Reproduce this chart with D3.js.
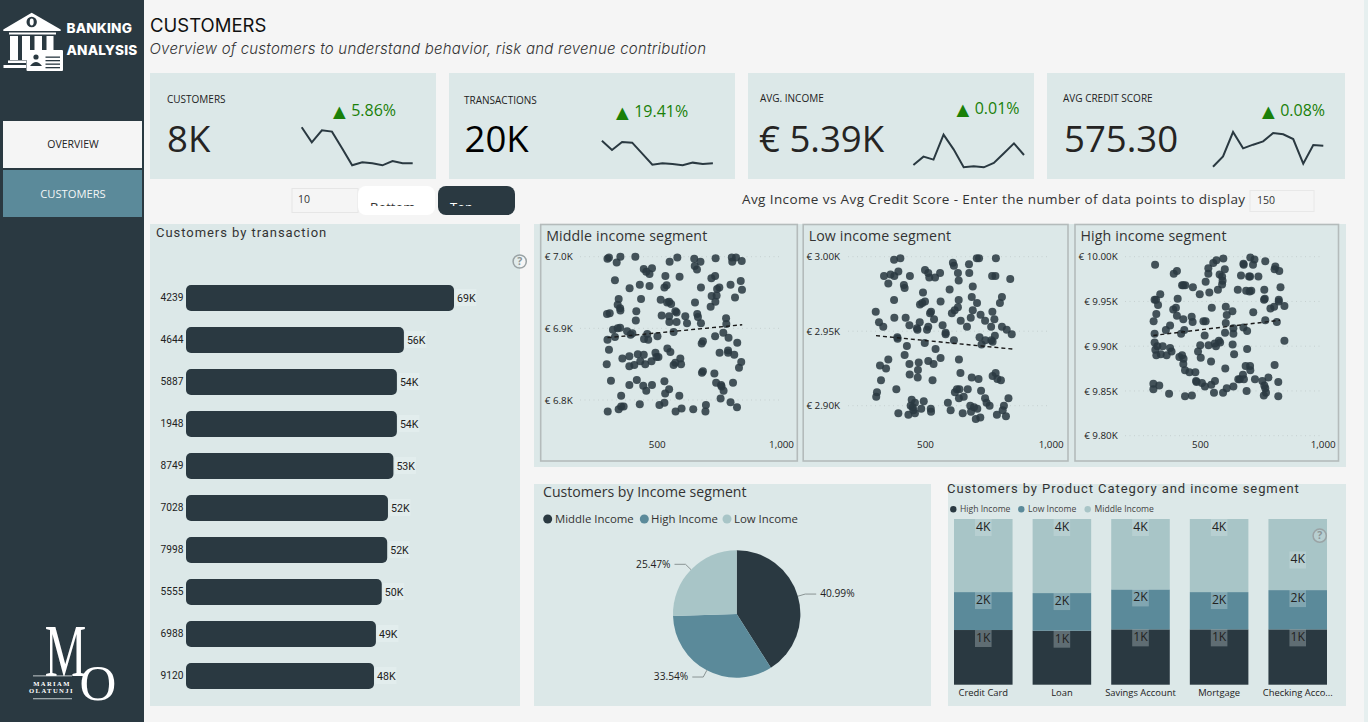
<!DOCTYPE html>
<html>
<head>
<meta charset="utf-8">
<title>Banking Analysis - Customers</title>
<script src="https://cdn.jsdelivr.net/npm/d3@7/dist/d3.min.js"></script>
<style>
  html, body { margin: 0; padding: 0; background: #f5f5f5; overflow: hidden; }
  svg { display: block; }
  text { font-family: "Open Sans", sans-serif; }
</style>
</head>
<body>
<svg id="dash" width="1368" height="722"></svg>
<script>
// ---- Data ----
const months = ["Jan","Feb","Mar","Apr","May","Jun","Jul","Aug","Sep","Oct","Nov","Dec"];
const sparkCustomers = [970,745,925,905,655,400,445,430,400,465,430,430];
const sparkTransactions = [2480,1920,2400,2360,1700,1040,1120,1080,1000,1160,1080,1120];
const sparkIncome = [5307,5332,5323,5398,5354,5300,5303,5300,5313,5342,5372,5337];
const sparkCredit = [560,567.75,586,573.75,576.5,579,585.25,584.25,580.75,562.25,576.25,575.75];

const customerIds = ["4239","4644","5887","1948","8749","7028","7998","5555","6988","9120"];
const customerTransactions = [69,56.1,54.3,54.3,53.4,52,51.8,50.4,48.9,48.4];

const incomeSegments = ["Middle Income","High Income","Low Income"];
const incomeShares = [40.99,33.54,25.47];

const productCategories = ["Credit Card","Loan","Savings Account","Mortgage","Checking Acco..."];
const stackSegments = ["High Income","Low Income","Middle Income"];
const shareHigh = [33,32.6,33.4,33.4,33.4];
const shareLow = [22.9,22.7,24.1,22.5,23.7];
const shareMiddle = [44.1,44.7,42.5,44.1,42.9];
const countLabelHigh = ["1K","1K","1K","1K","1K"];
const countLabelLow = ["2K","2K","2K","2K","2K"];
const countLabelMiddle = ["4K","4K","4K","4K","4K"];

// [credit score, average income]
const middleSegment = [[302,6997],[308,6999],[354,7000],[414,7000],[339,6992],[552,6993],[583,6999],[651,6997],[676,6993],[653,6987],[662,6982],[737,6998],[802,6999],[819,6999],[804,6993],[842,6994],[448,6983],[481,6984],[458,6979],[471,6976],[332,6967],[535,6973],[592,6972],[720,6970],[735,6973],[838,6966],[391,6956],[432,6961],[471,6959],[531,6957],[540,6960],[678,6957],[743,6955],[752,6957],[797,6961],[843,6954],[347,6941],[437,6941],[516,6940],[542,6936],[550,6937],[558,6934],[654,6936],[721,6945],[741,6946],[736,6937],[717,6930],[815,6943],[343,6933],[353,6928],[354,6925],[300,6920],[311,6921],[418,6924],[520,6918],[550,6917],[575,6924],[580,6922],[615,6917],[663,6920],[666,6916],[416,6911],[551,6909],[580,6909],[622,6907],[678,6907],[779,6914],[780,6906],[324,6898],[343,6900],[353,6901],[381,6896],[402,6893],[395,6891],[302,6884],[332,6888],[462,6892],[503,6889],[449,6885],[466,6884],[568,6895],[735,6889],[768,6894],[789,6887],[824,6880],[681,6879],[686,6882],[308,6870],[543,6872],[555,6867],[495,6866],[499,6860],[507,6860],[362,6858],[390,6861],[424,6864],[448,6863],[753,6866],[787,6869],[787,6866],[812,6863],[299,6850],[390,6847],[410,6849],[434,6854],[454,6850],[479,6854],[568,6849],[575,6852],[595,6858],[598,6850],[831,6845],[840,6853],[682,6838],[686,6840],[732,6837],[316,6827],[390,6821],[420,6828],[446,6820],[481,6821],[458,6813],[531,6826],[550,6815],[534,6809],[591,6806],[357,6806],[739,6824],[759,6821],[761,6819],[769,6813],[807,6824],[757,6802],[797,6797],[823,6790],[432,6794],[511,6793],[531,6796],[303,6784],[347,6787],[357,6791],[367,6791],[576,6784],[600,6788],[647,6787],[698,6793],[696,6784]];
const middleTrend = [[302,6887],[844,6905]];

const lowSegment = [[377,2998],[402,2999],[611,2996],[615,2994],[675,2995],[706,2999],[715,2999],[782,2999],[500,2991],[513,2989],[517,2986],[540,2986],[560,2989],[631,2989],[676,2989],[634,2984],[337,2987],[363,2988],[378,2987],[394,2990],[440,2987],[767,2987],[780,2987],[839,2985],[354,2982],[416,2981],[419,2979],[690,2980],[598,2978],[492,2976],[377,2971],[480,2968],[489,2969],[500,2970],[562,2970],[634,2971],[686,2973],[707,2969],[806,2973],[798,2969],[631,2966],[618,2964],[607,2962],[690,2964],[304,2963],[524,2963],[520,2962],[378,2959],[423,2959],[536,2958],[682,2959],[721,2961],[739,2957],[768,2963],[776,2958],[642,2957],[317,2956],[334,2953],[438,2954],[479,2956],[513,2953],[468,2952],[470,2951],[508,2951],[570,2954],[582,2949],[582,2948],[667,2953],[763,2953],[806,2953],[825,2951],[845,2948],[390,2946],[391,2945],[717,2946],[615,2944],[499,2942],[740,2944],[764,2944],[769,2943],[778,2947],[725,2941],[428,2940],[542,2938],[419,2934],[562,2932],[635,2931],[354,2931],[321,2927],[345,2925],[438,2928],[475,2929],[513,2930],[534,2928],[439,2921],[472,2924],[471,2919],[641,2922],[686,2919],[713,2918],[769,2920],[781,2922],[788,2918],[802,2917],[325,2917],[530,2917],[386,2911],[309,2909],[306,2906],[619,2909],[627,2911],[637,2911],[670,2911],[723,2910],[832,2905],[635,2905],[654,2906],[739,2905],[745,2902],[757,2900],[814,2900],[447,2904],[460,2902],[495,2903],[443,2900],[451,2899],[591,2902],[523,2898],[680,2900],[695,2899],[708,2898],[602,2897],[454,2897],[485,2898],[524,2896],[394,2895],[434,2894],[460,2895],[650,2895],[683,2896],[809,2897],[786,2894],[822,2893],[702,2891],[720,2892]];
const lowTrend = [[305,2947],[849,2938]];

const highSegment = [[317,9991],[406,9984],[393,9981],[534,9987],[534,9981],[554,9993],[567,9996],[595,9998],[601,9986],[580,9980],[590,9978],[592,9973],[523,9972],[590,9969],[573,9963],[538,9960],[499,9958],[705,9999],[722,9997],[677,9992],[678,9991],[716,9991],[766,9995],[807,9989],[804,9986],[823,9984],[667,9979],[700,9978],[704,9978],[738,9978],[427,9968],[440,9968],[432,9968],[471,9966],[338,9958],[654,9963],[688,9962],[702,9961],[709,9962],[762,9963],[828,9966],[315,9952],[321,9952],[409,9953],[764,9953],[761,9952],[821,9952],[821,9950],[844,9945],[329,9946],[391,9941],[402,9943],[548,9943],[605,9944],[632,9939],[609,9935],[717,9938],[787,9942],[802,9944],[322,9936],[406,9934],[432,9930],[466,9933],[470,9927],[514,9928],[523,9928],[311,9928],[605,9926],[766,9929],[813,9927],[378,9923],[361,9918],[436,9918],[423,9914],[519,9912],[315,9914],[602,9915],[636,9920],[636,9914],[677,9921],[692,9917],[315,9904],[326,9900],[348,9900],[535,9901],[565,9900],[577,9906],[582,9904],[560,9903],[501,9901],[633,9902],[844,9906],[318,9896],[378,9898],[384,9894],[340,9891],[322,9890],[364,9890],[492,9894],[692,9897],[639,9891],[416,9888],[427,9890],[433,9886],[503,9887],[545,9883],[432,9880],[439,9873],[457,9871],[481,9871],[603,9875],[686,9878],[704,9878],[705,9873],[804,9879],[484,9861],[486,9860],[508,9859],[546,9857],[561,9861],[520,9855],[310,9858],[310,9852],[334,9856],[374,9847],[439,9844],[467,9845],[557,9848],[594,9848],[609,9853],[636,9855],[656,9863],[662,9863],[675,9868],[679,9863],[724,9863],[779,9865],[754,9861],[762,9856],[766,9853],[819,9860],[690,9850],[769,9848],[760,9845],[819,9844]];
const highTrend = [[310,9912],[826,9929]];

// ---- Palette ----
const dark = "#2a3941", teal = "#5b8a9a", pale = "#a8c5c7", panel = "#dce8e8", page = "#f5f5f5";
const din = '"Roboto", sans-serif';

const svg = d3.select("#dash");
svg.append("rect").attr("width", 1368).attr("height", 722).attr("fill", page);
svg.append("rect").attr("x", 1364).attr("width", 4).attr("height", 722).attr("fill", "#e6efef");

function box(g, x0, y0, x1, y1, fill) {
  return g.append("rect").attr("x", x0).attr("y", y0).attr("width", x1 - x0).attr("height", y1 - y0).attr("fill", fill);
}
function label(g, x, y, str, size, opts = {}) {
  const baseline = opts.baseline || "middle";
  return g.append("text").attr("x", x).attr("y", baseline === "middle" ? y + 0.9 : y).text(str)
    .attr("font-size", size)
    .attr("fill", opts.fill || "#252423")
    .attr("text-anchor", opts.anchor || "start")
    .attr("dominant-baseline", baseline)
    .attr("letter-spacing", opts.spacing || null)
    .attr("font-weight", opts.weight || null)
    .attr("font-style", opts.style || null)
    .style("font-family", opts.family || null);
}

// ---- Sidebar ----
const side = svg.append("g");
box(side, 0, 0, 144, 722, dark);

const icon = side.append("g").attr("fill", "#fff");
icon.append("path").attr("d", "M31.7 12.7 L60.7 29.5 L60.7 31 L3.3 31 L3.3 29.5 Z");
icon.append("circle").attr("cx", 31.7).attr("cy", 22).attr("r", 5.2).attr("fill", dark);
icon.append("ellipse").attr("cx", 31.7).attr("cy", 22).attr("rx", 2).attr("ry", 3.4);
box(icon, 9, 32.5, 56, 34.5, "#fff");
[[10,18],[22,30],[34.5,42],[46.5,53.5]].forEach(c => box(icon, c[0], 36, c[1], 60, "#fff"));
box(icon, 8, 60.5, 26, 63, "#fff");
box(icon, 3.5, 65, 26, 68, "#fff");
box(icon, 26.5, 50, 63, 71, "#fff").attr("rx", 1);
const card = icon.append("g").attr("fill", dark);
card.append("circle").attr("cx", 36).attr("cy", 57).attr("r", 2.6);
card.append("path").attr("d", "M30 66 Q36 58 42 66 Z");
[[56.5],[60],[63.5],[67]].forEach(r => box(card, 45.5, r[0], 60, r[0] + 1.3, dark));

label(side, 66.5, 28.5, "BANKING", 13.6, { fill: "#fff", weight: 800, family: '"Inter", sans-serif', spacing: 0.15 });
label(side, 66.5, 50.5, "ANALYSIS", 13.6, { fill: "#fff", weight: 800, family: '"Inter", sans-serif', spacing: 0.15 });

box(side, 3, 121, 142, 168, page);
label(side, 73, 144, "OVERVIEW", 10.5, { anchor: "middle", fill: "#222" });
box(side, 3, 170, 142, 217, teal);
label(side, 73, 194.5, "CUSTOMERS", 11.2, { anchor: "middle", fill: "#f3f6f6" });

const serif = '"Liberation Serif", serif';
side.append("text").text("M").attr("transform", "translate(65.5,676) scale(0.63,1)")
  .attr("text-anchor", "middle").attr("font-size", 74).attr("fill", "#fff").style("font-family", serif);
label(side, 98, 699.5, "O", 51, { fill: "#fff", anchor: "middle", baseline: "auto", family: serif }).attr("font-weight", 400);
box(side, 33, 675.5, 72, 676.3, "#e8eeee");
box(side, 33, 698.4, 72, 699.2, "#e8eeee");
label(side, 52, 683.5, "MARIAM", 6.6, { fill: "#fff", anchor: "middle", spacing: 1.4, weight: 700, family: serif });
label(side, 51.5, 691, "OLATUNJI", 6.6, { fill: "#fff", anchor: "middle", spacing: 1.4, weight: 700, family: serif });

// ---- Page heading ----
label(svg, 150, 26, "CUSTOMERS", 18.5, { fill: "#111", family: '"Inter", sans-serif', weight: 400 });
label(svg, 149.5, 49, "Overview of customers to understand behavior, risk and revenue contribution", 15, { fill: "#333", family: '"Inter", sans-serif', style: "italic", weight: 300, spacing: 0.23 });

// ---- KPI cards ----
const kpis = [
  { title: "CUSTOMERS", value: "8K", delta: "5.86%", spark: sparkCustomers, x: [150,436], lx: 167, ly: 99, vx: 167, dx: 333, dy: 111.5, sx: [301.7,412.7], sy: [165.3,127.3], color: "#252423" },
  { title: "TRANSACTIONS", value: "20K", delta: "19.41%", spark: sparkTransactions, x: [449,735], lx: 464, ly: 100.5, vx: 464.5, dx: 616, dy: 112, sx: [601.9,712.9], sy: [165.3,140.7], color: "#000" },
  { title: "AVG. INCOME", value: "€ 5.39K", delta: "0.01%", spark: sparkIncome, x: [748,1034], lx: 760, ly: 98.5, vx: 759, dx: 956.5, dy: 109, sx: [913.4,1024], sy: [167.3,134.7], color: "#252423" },
  { title: "AVG CREDIT SCORE", value: "575.30", delta: "0.08%", spark: sparkCredit, x: [1047,1345], lx: 1063, ly: 98.5, vx: 1064, dx: 1262, dy: 111.5, sx: [1213,1323.3], sy: [166.7,132], color: "#252423" }
];
kpis.forEach(k => {
  const g = svg.append("g");
  box(g, k.x[0], 73, k.x[1], 179, panel);
  label(g, k.lx, k.ly, k.title, 10, { fill: "#222" });
  label(g, k.vx, 151.5, k.value, 36.6, { baseline: "auto", fill: k.color });
  const d = g.append("text").attr("x", k.dx).attr("y", k.dy + 0.9).attr("dominant-baseline", "middle").attr("fill", "#1a8009").attr("font-size", 16);
  d.append("tspan").text("▲").style("font-family", '"DejaVu Sans"').attr("font-size", 16.5);
  d.append("tspan").attr("dx", 5.5).text(k.delta);
  const x = d3.scalePoint().domain(months).range(k.sx);
  const y = d3.scaleLinear().domain(d3.extent(k.spark)).range(k.sy);
  g.append("path").datum(k.spark)
    .attr("fill", "none").attr("stroke", dark).attr("stroke-width", 2)
    .attr("d", d3.line().x((v, i) => x(months[i])).y(v => y(v)));
});

// ---- Slicers ----
const slicers = svg.append("g");
box(slicers, 292, 188.5, 358, 212.5, page).attr("stroke", "#e6e6e6");
label(slicers, 298, 199.5, "10", 10.5, { fill: "#333" });
const clipDefs = svg.append("defs");
clipDefs.append("clipPath").attr("id", "slicerClip").append("rect").attr("x", 358).attr("y", 186).attr("width", 160).attr("height", 20);
box(slicers, 358, 186, 435, 215, "#fff").attr("rx", 8);
box(slicers, 438, 186, 515, 215, dark).attr("rx", 8);
label(slicers, 370, 212, "Bottom", 13, { baseline: "auto", fill: "#333" }).attr("clip-path", "url(#slicerClip)");
label(slicers, 450, 212, "Top", 13, { baseline: "auto", fill: "#fff" }).attr("clip-path", "url(#slicerClip)");

label(svg, 742, 199.5, "Avg Income vs Avg Credit Score - Enter the number of data points to display", 13.5, { fill: "#333", spacing: 0.4 });
box(svg, 1250, 190.5, 1314, 211.5, page).attr("stroke", "#e8e8e8");
label(svg, 1257, 200, "150", 10.5, { fill: "#333" });

// ---- Customers by transaction ----
const barPanel = svg.append("g");
box(barPanel, 150, 224, 520, 706, panel);
label(barPanel, 156, 232.5, "Customers by transaction", 13, { family: din, spacing: 0.95, fill: "#333" });

const barX = d3.scaleLinear().domain([0, 69]).range([186, 454]);
const barY = d3.scaleBand().domain(customerIds).range([277, 697]).paddingInner(0.38).paddingOuter(0.19);
barPanel.selectAll("rect.bar").data(customerTransactions).join("rect").attr("class", "bar")
  .attr("x", barX(0))
  .attr("y", (d, i) => barY(customerIds[i]))
  .attr("width", d => barX(d) - barX(0))
  .attr("height", barY.bandwidth())
  .attr("rx", 5)
  .attr("fill", dark);
barPanel.selectAll("text.id").data(customerIds).join("text").attr("class", "id")
  .attr("x", 183.5).attr("y", d => barY(d) + barY.bandwidth() / 2 + 0.8)
  .attr("text-anchor", "end").attr("dominant-baseline", "middle")
  .attr("font-size", 10.2).attr("fill", "#222").style("font-family", din).text(d => d);
barPanel.selectAll("rect.tag").data(customerTransactions).join("rect").attr("class", "tag")
  .attr("x", d => barX(d) + 1.5)
  .attr("y", (d, i) => barY(customerIds[i]) + 4)
  .attr("width", 21).attr("height", 17)
  .attr("fill", "#e6f0f0").attr("fill-opacity", 0.6);
barPanel.selectAll("text.val").data(customerTransactions).join("text").attr("class", "val")
  .attr("x", d => barX(d) + 3)
  .attr("y", (d, i) => barY(customerIds[i]) + barY.bandwidth() / 2 + 0.8)
  .attr("dominant-baseline", "middle")
  .attr("font-size", 10.6).attr("fill", "#222").style("font-family", din)
  .text(d => d3.format(".0f")(d) + "K");

// Help marker shown on hover-enabled visuals
function helpMark(cx, cy) {
  const g = svg.append("g");
  g.append("circle").attr("cx", cx).attr("cy", cy).attr("r", 6.6)
    .attr("fill", "#fff").attr("fill-opacity", 0.18).attr("stroke", "#9aa3a5").attr("stroke-width", 1.5);
  label(g, cx, cy - 0.2, "?", 10.5, { anchor: "middle", fill: "#8d9698", weight: 700 });
}
helpMark(519.7, 261.5);

// ---- Scatter panels ----
box(svg, 534, 224, 1346, 467, panel);

function scatter(cfg) {
  const g = svg.append("g");
  g.append("rect").attr("x", cfg.frame[0]).attr("y", 224.5)
    .attr("width", cfg.frame[1] - cfg.frame[0]).attr("height", 236.5)
    .attr("fill", "none").attr("stroke", "#b4bbbb").attr("stroke-width", 1.6);
  label(g, cfg.frame[0] + 5.5, 236, cfg.title, 14.2, { fill: "#333", spacing: 0.12 });

  const x = d3.scaleLinear().domain([500, 1000]).range(cfg.xRange);
  const y = d3.scaleLinear().domain(cfg.yDomain).range(cfg.yRange);

  g.selectAll("line.grid").data(cfg.ticks).join("line").attr("class", "grid")
    .attr("x1", cfg.grid[0]).attr("x2", cfg.grid[1])
    .attr("y1", d => y(d)).attr("y2", d => y(d))
    .attr("stroke", "#c6d0d0").attr("stroke-width", 1).attr("stroke-dasharray", "1 3.5");

  const yAxis = g.append("g").attr("transform", `translate(${cfg.labelRight},0)`)
    .call(d3.axisLeft(y).tickValues(cfg.ticks).tickSize(0).tickPadding(0).tickFormat(cfg.format));
  const xAxis = g.append("g").attr("transform", "translate(0,441)")
    .call(d3.axisBottom(x).tickValues([500, 1000]).tickSize(0).tickPadding(0).tickFormat(d3.format(",")));
  [yAxis, xAxis].forEach(a => {
    a.select(".domain").remove();
    a.selectAll("text").attr("font-size", 9.8).attr("fill", "#222").style("font-family", '"Open Sans", sans-serif');
  });

  g.selectAll("circle").data(cfg.points).join("circle")
    .attr("cx", d => x(d[0])).attr("cy", d => y(d[1])).attr("r", 4)
    .attr("fill", dark).attr("fill-opacity", 0.86);

  g.append("path").datum(cfg.trend)
    .attr("fill", "none").attr("stroke", "#1a1a1a").attr("stroke-width", 1.4).attr("stroke-dasharray", "4 3")
    .attr("d", d3.line().x(d => x(d[0])).y(d => y(d[1])));
}
const incomeK = digits => v => "€ " + (v / 1000).toFixed(digits) + "K";
scatter({ title: "Middle income segment", frame: [540.7, 797.3], xRange: [656.7, 781], yDomain: [7000, 6800], yRange: [256.7, 400], ticks: [7000, 6900, 6800], grid: [580, 781.7], labelRight: 572.7, format: incomeK(1), points: middleSegment, trend: middleTrend });
scatter({ title: "Low income segment", frame: [803.2, 1068], xRange: [925, 1050.7], yDomain: [3000, 2900], yRange: [256.7, 405.7], ticks: [3000, 2950, 2900], grid: [848, 1048], labelRight: 840, format: incomeK(2), points: lowSegment, trend: lowTrend });
scatter({ title: "High income segment", frame: [1075, 1338.5], xRange: [1200, 1322.7], yDomain: [10000, 9800], yRange: [256.7, 435.7], ticks: [10000, 9950, 9900, 9850, 9800], grid: [1125, 1321.7], labelRight: 1117.7, format: incomeK(2), points: highSegment, trend: highTrend });

// ---- Income segment pie ----
const pieGroup = svg.append("g");
box(pieGroup, 534, 484, 931, 706, panel);
label(pieGroup, 543, 492, "Customers by Income segment", 14.1, { fill: "#333" });

const pieColor = d3.scaleOrdinal().domain(incomeSegments).range([dark, teal, pale]);
const legendAt = [[547.7, 555], [644.3, 651], [727, 734]];
incomeSegments.forEach((s, i) => {
  pieGroup.append("circle").attr("cx", legendAt[i][0]).attr("cy", 519).attr("r", 4.5).attr("fill", pieColor(s));
  label(pieGroup, legendAt[i][1], 518.8, s, 11.4, { fill: "#333" });
});

const pieCx = 736.7, pieCy = 614, pieR = 63.7;
const arcs = d3.pie().sort(null)(incomeShares);
const arc = d3.arc().innerRadius(0).outerRadius(pieR);
const pieCenter = pieGroup.append("g").attr("transform", `translate(${pieCx},${pieCy})`);
pieCenter.selectAll("path").data(arcs).join("path")
  .attr("d", arc).attr("fill", (d, i) => pieColor(incomeSegments[i]));
arcs.forEach((a, i) => {
  const mid = (a.startAngle + a.endAngle) / 2;
  const dir = Math.sin(mid) > 0 ? 1 : -1;
  const p0 = [pieR * Math.sin(mid), -pieR * Math.cos(mid)];
  const p1 = [pieR * 1.12 * Math.sin(mid), -pieR * 1.12 * Math.cos(mid)];
  const p2 = [p1[0] + dir * 11, p1[1]];
  pieCenter.append("path").attr("d", d3.line()([p0, p1, p2]))
    .attr("fill", "none").attr("stroke", "#8a9494").attr("stroke-width", 1);
  label(pieCenter, p2[0] + dir * 4, p2[1] - 0.4, incomeShares[i].toFixed(2) + "%", 10.2, { anchor: dir > 0 ? "start" : "end", fill: "#222" });
});

// ---- Product category stacked columns ----
const stackGroup = svg.append("g");
box(stackGroup, 948, 484, 1346, 706, panel);
label(stackGroup, 947, 488.8, "Customers by Product Category and income segment", 13, { family: din, spacing: 0.92, fill: "#333" });

const stackColor = d3.scaleOrdinal().domain(stackSegments).range([dark, teal, pale]);
[[953.3, 960], [1021.3, 1028], [1087.7, 1094.5]].forEach((p, i) => {
  stackGroup.append("circle").attr("cx", p[0]).attr("cy", 509.3).attr("r", 3.2).attr("fill", stackColor(stackSegments[i]));
  label(stackGroup, p[1], 509.2, stackSegments[i], 8.6, { fill: "#444" });
});

const colX = d3.scaleBand().domain(productCategories).range([954, 1327]).paddingInner(0.255).paddingOuter(0);
const colY = d3.scaleLinear().domain([0, 100]).range([684.7, 519]);
const stackRows = productCategories.map((c, i) => ({ category: c, "High Income": shareHigh[i], "Low Income": shareLow[i], "Middle Income": shareMiddle[i] }));
const stacked = d3.stack().keys(stackSegments)(stackRows);
const countLabels = [countLabelHigh, countLabelLow, countLabelMiddle];

stacked.forEach(layer => {
  stackGroup.selectAll(null).data(layer).join("rect")
    .attr("x", d => colX(d.data.category)).attr("width", colX.bandwidth())
    .attr("y", d => colY(d[1])).attr("height", d => colY(d[0]) - colY(d[1]))
    .attr("fill", stackColor(layer.key));
});
stacked.forEach((layer, li) => {
  layer.forEach((d, ci) => {
    // The tall top segment of the last column keeps its tag clear of the help marker
    const nudged = li === 2 && ci === 4;
    const top = nudged ? 551.5 : colY(d[1]);
    const cx = colX(d.data.category) + colX.bandwidth() / 2;
    stackGroup.append("rect").attr("x", cx - 8.3).attr("y", top).attr("width", 16.6).attr("height", 17)
      .attr("fill", "#dce8e8").attr("fill-opacity", 0.3);
    label(stackGroup, cx, top + 7.8, countLabels[li][ci], 12.2, { anchor: "middle", fill: "#222" });
  });
});
stackGroup.selectAll("text.cat").data(productCategories).join("text").attr("class", "cat")
  .attr("x", d => colX(d) + colX.bandwidth() / 2).attr("y", 693)
  .attr("text-anchor", "middle").attr("dominant-baseline", "middle")
  .attr("font-size", 9.4).attr("fill", "#222").text(d => d);
helpMark(1319.7, 535.7);
</script>
</body>
</html>
